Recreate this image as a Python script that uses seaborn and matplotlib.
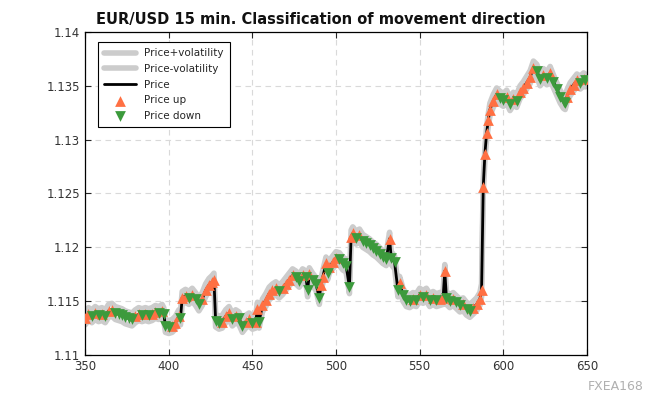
import numpy as np
import pandas as pd
import matplotlib
matplotlib.use("Agg")
import matplotlib.pyplot as plt
import seaborn as sns

# bar index (15 min bars) and close price
idx = [350, 352, 354, 356, 358, 360, 362, 364, 366, 368,
       370, 372, 374, 376, 378, 380, 382, 384, 386, 388,
       390, 392, 394, 396, 397, 398, 400, 402, 404, 406,
       407, 408, 410, 412, 414, 416, 418, 420, 422, 424,
       426, 427, 428, 430, 432, 434, 436, 438, 440, 442,
       444, 446, 448, 450, 452, 453, 454, 456, 458, 460,
       462, 464, 466, 468, 470, 472, 474, 476, 478, 480,
       482, 483, 484, 486, 488, 490, 491, 492, 494, 495,
       496, 498, 500, 502, 504, 506, 508, 509, 510, 512,
       514, 516, 518, 520, 522, 524, 526, 528, 530, 532,
       533, 535, 537, 538, 540, 542, 544, 546, 548, 550,
       552, 554, 556, 558, 560, 562, 564, 565, 566, 568,
       570, 572, 574, 576, 578, 580, 582, 584, 586, 587,
       588, 589, 590, 591, 592, 594, 596, 598, 600, 602,
       604, 606, 608, 610, 612, 614, 616, 618, 620, 622,
       624, 626, 628, 630, 632, 634, 636, 637, 638, 640,
       642, 644, 646, 648, 649]
price = [1.1134, 1.1138, 1.1136, 1.1139, 1.1137, 1.1138, 1.1136, 1.1141, 1.1142, 1.1139,
         1.1138, 1.1137, 1.1135, 1.1134, 1.1133, 1.1136, 1.1138, 1.1137, 1.1138, 1.1137,
         1.1138, 1.1140, 1.1139, 1.1141, 1.1138, 1.1127, 1.1126, 1.1127, 1.1130, 1.1136,
         1.1134, 1.1153, 1.1155, 1.1153, 1.1156, 1.1152, 1.1147, 1.1152, 1.1160, 1.1165,
         1.1168, 1.1170, 1.1132, 1.1130, 1.1131, 1.1136, 1.1139, 1.1133, 1.1136, 1.1134,
         1.1127, 1.1131, 1.1133, 1.1130, 1.1131, 1.1143, 1.1131, 1.1146, 1.1151, 1.1157,
         1.1160, 1.1162, 1.1159, 1.1162, 1.1166, 1.1170, 1.1174, 1.1172, 1.1169, 1.1174,
         1.1172, 1.1160, 1.1175, 1.1170, 1.1166, 1.1153, 1.1165, 1.1172, 1.1185, 1.1176,
         1.1182, 1.1186, 1.1190, 1.1189, 1.1185, 1.1183, 1.1163, 1.1210, 1.1213, 1.1209,
         1.1211, 1.1206, 1.1204, 1.1202, 1.1199, 1.1197, 1.1194, 1.1191, 1.1189, 1.1208,
         1.1190, 1.1186, 1.1160, 1.1167, 1.1156, 1.1151, 1.1150, 1.1152, 1.1151, 1.1156,
         1.1154, 1.1156, 1.1151, 1.1153, 1.1151, 1.1152, 1.1153, 1.1178, 1.1153, 1.1150,
         1.1152, 1.1149, 1.1146, 1.1147, 1.1143, 1.1141, 1.1144, 1.1147, 1.1152, 1.1160,
         1.1256, 1.1287, 1.1306, 1.1318, 1.1328, 1.1336, 1.1342, 1.1339, 1.1337, 1.1340,
         1.1333, 1.1338, 1.1336, 1.1344, 1.1348, 1.1353, 1.1358, 1.1367, 1.1364, 1.1356,
         1.1360, 1.1357, 1.1362, 1.1354, 1.1347, 1.1340, 1.1335, 1.1334, 1.1340, 1.1347,
         1.1351, 1.1355, 1.1353, 1.1356, 1.1355]
volatility = 0.0006

x_ticks = [350, 400, 450, 500, 550, 600, 650]
y_ticks = [1.11, 1.115, 1.12, 1.125, 1.13, 1.135, 1.14]

df = pd.DataFrame({"idx": idx, "price": price})
df["upper"] = df["price"] + volatility
df["lower"] = df["price"] - volatility
df["dir"] = np.where(df["price"].diff().fillna(1) >= 0, "up", "down")

sns.set_style("ticks")
plt.rcParams["font.family"] = ["DejaVu Sans"]

fig = plt.figure(figsize=(6.5, 4), dpi=100)
ax = fig.add_axes([0.131, 0.1125, 0.772, 0.8075])

grey = "#cccccc"
sns.lineplot(data=df, x="idx", y="upper", color=grey, lw=4, label="Price+volatility", ax=ax)
sns.lineplot(data=df, x="idx", y="lower", color=grey, lw=4, label="Price-volatility", ax=ax)
sns.lineplot(data=df, x="idx", y="price", color="black", lw=2, label="Price", ax=ax)
ups = df[df["dir"] == "up"]
downs = df[df["dir"] == "down"]
sns.scatterplot(data=ups, x="idx", y="price", marker="^", color="#ff7043", s=60,
                linewidth=0, label="Price up", ax=ax, zorder=4)
sns.scatterplot(data=downs, x="idx", y="price", marker="v", color="#3c9a3c", s=60,
                linewidth=0, label="Price down", ax=ax, zorder=4)

ax.set_xlim(350, 650)
ax.set_ylim(1.11, 1.14)
ax.set_xticks(x_ticks)
ax.set_yticks(y_ticks)
ax.set_yticklabels([f"{v:g}" for v in y_ticks])
ax.set_xlabel("")
ax.set_ylabel("")
ax.grid(True, ls=(0, (5, 4)), color="#d9d9d9", lw=0.8)
ax.set_axisbelow(True)
ax.tick_params(direction="in", top=True, right=True, length=4, labelsize=8.5,
               labelcolor="#333333", width=0.8)
for s in ax.spines.values():
    s.set_visible(True)
    s.set_color("black")
    s.set_linewidth(0.9)

ax.set_title("EUR/USD 15 min. Classification of movement direction",
             fontsize=10.5, fontweight="bold", color="#111111", pad=6, x=0.47)

leg = ax.legend(loc="upper left", bbox_to_anchor=(0.026, 0.969), borderaxespad=0,
                fontsize=7.5, frameon=True, fancybox=False, edgecolor="black",
                framealpha=1, handlelength=3, borderpad=0.6, labelspacing=0.55)
leg.get_frame().set_linewidth(0.8)

fig.text(0.99, 0.035, "FXEA168", ha="right", va="center", fontsize=9, color="#b0b0b0")

fig.savefig("out.png", dpi=100)
